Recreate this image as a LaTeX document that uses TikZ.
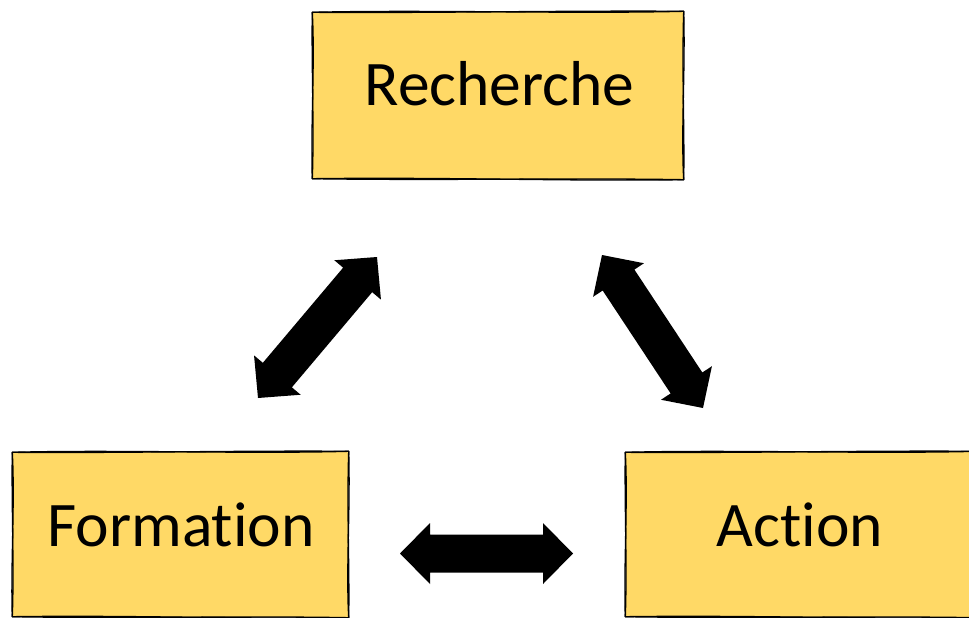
\documentclass[tikz,border=0pt]{standalone}
\usepackage{fontspec}
\setmainfont[RawFeature=-liga]{Carlito}
\usetikzlibrary{calc}
\definecolor{boxyellow}{RGB}{255,217,102}
\newcommand{\blockarrow}[2]{%
  \path ($(#1)!30pt!(#2)$) coordinate (#1h) ($(#2)!30pt!(#1)$) coordinate (#2h);
  \fill[black] (#1)
    -- ($(#1h)!30.5pt!90:(#1)$) -- ($(#1h)!19pt!90:(#1)$)
    -- ($(#2h)!19pt!90:(#1)$) -- ($(#2h)!30.5pt!90:(#1)$)
    -- (#2)
    -- ($(#2h)!30.5pt!-90:(#1)$) -- ($(#2h)!19pt!-90:(#1)$)
    -- ($(#1h)!19pt!-90:(#1)$) -- ($(#1h)!30.5pt!-90:(#1)$)
    -- cycle;}
% sketchy outline: #1 node name, #2 wobble amount
\newcommand{\sketchrect}[2]{%
  \draw[sketchline] ($(#1.north west)+(-0.5,0.5)$)
    .. controls ($(#1.north west)!0.3!(#1.north east)+(0,-#2)$) and ($(#1.north west)!0.7!(#1.north east)+(0,#2)$) .. ($(#1.north east)+(0.5,-0.5)$)
    .. controls ($(#1.north east)!0.35!(#1.south east)+(#2,0)$) and ($(#1.north east)!0.7!(#1.south east)+(-#2,0)$) .. ($(#1.south east)+(0.5,0.5)$)
    .. controls ($(#1.south east)!0.3!(#1.south west)+(0,#2)$) and ($(#1.south east)!0.65!(#1.south west)+(0,-#2)$) .. ($(#1.south west)+(-0.5,-0.5)$)
    .. controls ($(#1.south west)!0.3!(#1.north west)+(-#2,0)$) and ($(#1.south west)!0.7!(#1.north west)+(#2,0)$) .. cycle;}
\begin{document}
\begin{tikzpicture}[x=1pt,y=-1pt,
  sketchbox/.style={rectangle, fill=boxyellow, inner sep=0pt},
  lbl/.style={font=\fontsize{63.5}{70}\selectfont, inner sep=0pt, anchor=base},
  sketchline/.style={draw=black, line width=1.3pt, line join=round},
]
\useasboundingbox (0,0) rectangle (969,618);
% boxes
\node[sketchbox, minimum width=370pt, minimum height=167pt] (rech) at (498,95.5) {};
\node[sketchbox, minimum width=335pt, minimum height=165pt] (form) at (180.5,534.5) {};
\node[sketchbox, minimum width=350pt, minimum height=165pt] (act) at (801,534.5) {};
% sketchy borders
\foreach \b in {rech,form,act}{
  \sketchrect{\b}{2.2}
  \sketchrect{\b}{-1.4}
}
% labels
\node[lbl] (rechT) at (499.5,106) {Recherche};
\node[lbl] (formT) at (181,546) {Formation};
\node[lbl] (actT) at (800,546) {Action};
% arrow ends
\coordinate (l1) at (258,398); \coordinate (l2) at (377,257);
\coordinate (r1) at (602,255); \coordinate (r2) at (703,408);
\coordinate (m1) at (400,553.5); \coordinate (m2) at (573,553.5);
\blockarrow{l1}{l2}
\blockarrow{r1}{r2}
\blockarrow{m1}{m2}
\end{tikzpicture}
\end{document}
